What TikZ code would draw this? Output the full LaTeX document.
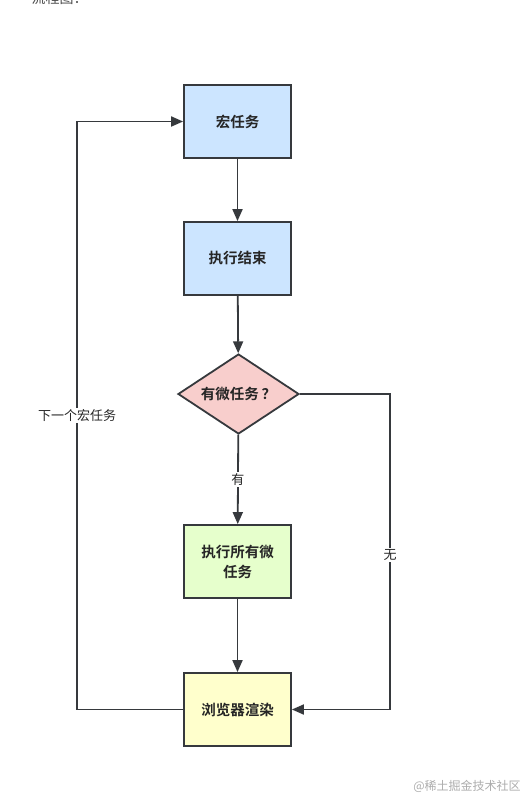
\documentclass[tikz,border=0pt]{standalone}
\usepackage{fontspec}
\setmainfont{Noto Sans CJK SC}
\newfontfamily\cjk{Noto Sans CJK SC}[BoldFont={Noto Sans CJK SC Bold}]
\usetikzlibrary{shapes.geometric,arrows.meta}
\definecolor{edgec}{HTML}{36393D}
\definecolor{bluef}{HTML}{CCE5FF}
\definecolor{redf}{HTML}{F8CECC}
\definecolor{greenf}{HTML}{E6FFCC}
\definecolor{yellowf}{HTML}{FFFFCC}
\tikzset{
  boxnode/.style={draw=edgec, line width=1.8pt, minimum width=107pt, minimum height=73pt, inner sep=2pt, align=center, font=\cjk\bfseries\fontsize{14.5pt}{20pt}\selectfont, text=black!85},
  decnode/.style={diamond, aspect=1.5, draw=edgec, line width=1.8pt, minimum width=121pt, minimum height=80pt, inner sep=0pt, font=\cjk\bfseries\fontsize{14.5pt}{20pt}\selectfont, text=black!85, fill=redf},
  conn/.style={draw=edgec, line width=1.8pt, -{Triangle[length=12pt,width=10pt]}},
  lbl/.style={fill=white, inner sep=1.5pt, font=\cjk\fontsize{13pt}{15pt}\selectfont, text=black!85}
}
\begin{document}
\begin{tikzpicture}[x=1pt,y=-1pt]
\useasboundingbox (0,0) rectangle (520,794);
\fill[white] (0,0) rectangle (520,794);
\node[anchor=base west, font=\cjk\fontsize{14pt}{16pt}\selectfont, text=black!70] (title) at (28,4) {流程图：};
\node[boxnode, fill=bluef] (macro) at (237.5,121.5) {宏任务};
\node[boxnode, fill=bluef] (done) at (237.5,258.5) {执行结束};
\node[decnode] (dec) at (238.5,394) {有微任务\hspace{3pt}？};
\node[boxnode, fill=greenf] (micro) at (237.5,561.5) {执行所有微\\任务};
\node[boxnode, fill=yellowf] (render) at (237.5,709.5) {浏览器渲染};
\coordinate (lb) at (77,709.5);
\coordinate (lt) at (77,121.5);
\coordinate (rt) at (390,394);
\coordinate (rb) at (390,709.5);
\draw[conn] (macro) -- (done);
\draw[conn] (done) -- (dec);
\draw[conn] (dec) -- node[lbl, pos=0.5] (yes) {有} (micro);
\draw[conn] (micro) -- (render);
\draw[conn] (render.west) -- (lb) -- node[lbl, pos=0.5] (next) {下一个宏任务} (lt) -- (macro.west);
\draw[conn] (dec.east) -- (rt) -- node[lbl, pos=0.510] (none) {无} (rb) -- (render.east);
\node[anchor=center, font=\cjk\fontsize{12pt}{14pt}\selectfont, text=black!32] (wm) at (467,786) {@稀土掘金技术社区};
\end{tikzpicture}
\end{document}
